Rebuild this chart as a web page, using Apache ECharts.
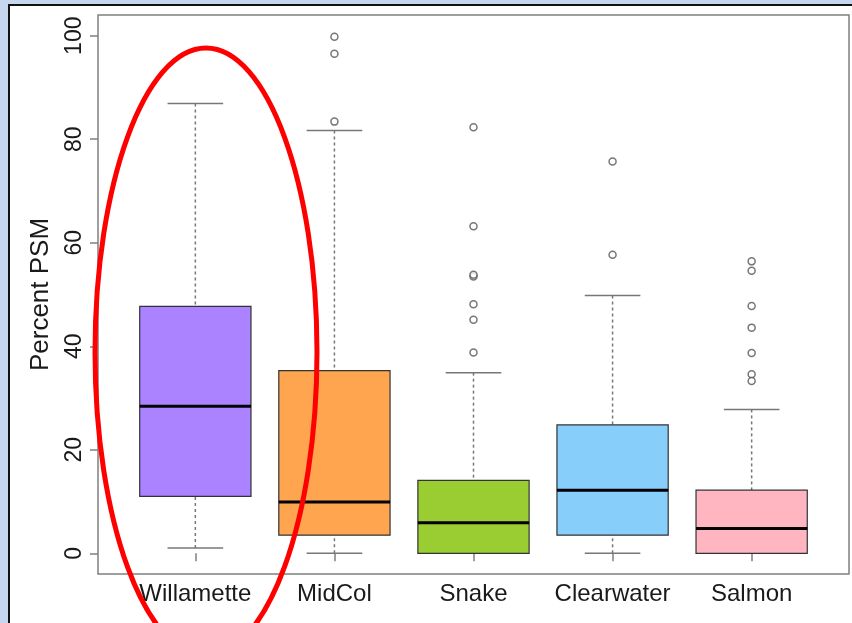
<!DOCTYPE html>
<html>
<head>
<meta charset="utf-8">
<script src="https://cdn.jsdelivr.net/npm/echarts@6/dist/echarts.min.js"></script>
<style>
  html, body { margin: 0; padding: 0; background: #c6d6ee; }
  #main { width: 852px; height: 623px; }
</style>
</head>
<body>
<div id="main"></div>
<script>
// categories and box stats
var categories = ["Willamette", "MidCol", "Snake", "Clearwater", "Salmon"];
var boxColors = ["#ab82ff", "#ffa54f", "#9acd32", "#87cefa", "#ffb6c1"];
// [lower whisker, Q1, median, Q3, upper whisker]
var boxStats = [
  [1.0, 11.0, 28.4, 47.7, 86.9],
  [0, 3.5, 9.9, 35.3, 81.7],
  [0, 0, 5.9, 14.1, 34.9],
  [0, 3.5, 12.2, 24.8, 49.8],
  [0, 0, 4.8, 12.2, 27.8]
];
var outliers = [
  [],
  [99.8, 96.5, 83.4],
  [82.3, 63.2, 53.5, 53.8, 48.1, 45.1, 38.8],
  [75.7, 57.7],
  [56.4, 54.6, 47.8, 43.6, 38.7, 34.6, 33.3]
];
var yTicks = [0, 20, 40, 60, 80, 100];
var xTicks = [1, 2, 3, 4, 5];

var boxData = boxStats.map(function (s, i) {
  return [i + 1].concat(s);
});
var outlierData = [];
outliers.forEach(function (arr, i) {
  arr.forEach(function (v) { outlierData.push([i + 1, v]); });
});

var myChart = echarts.init(document.getElementById("main"));

// draw one R-style box: dashed whiskers, caps, box and thick median
function renderBox(params, api) {
  var x = api.value(0);
  var lo = api.value(1), q1 = api.value(2), md = api.value(3), q3 = api.value(4), hi = api.value(5);
  var half = 0.4, cap = 0.2;
  var pLo = api.coord([x, lo]), pQ1 = api.coord([x, q1]), pMd = api.coord([x, md]);
  var pQ3 = api.coord([x, q3]), pHi = api.coord([x, hi]);
  var left = api.coord([x - half, 0])[0], right = api.coord([x + half, 0])[0];
  var cl = api.coord([x - cap, 0])[0], cr = api.coord([x + cap, 0])[0];
  var whisker = { stroke: "#777", lineWidth: 1.5, lineDash: [3, 3] };
  var capStyle = { stroke: "#777", lineWidth: 1.5 };
  var children = [];
  if (hi > q3) {
    children.push({ type: "line", shape: { x1: pHi[0], y1: pHi[1], x2: pQ3[0], y2: pQ3[1] }, style: whisker });
  }
  if (lo < q1) {
    children.push({ type: "line", shape: { x1: pLo[0], y1: pLo[1], x2: pQ1[0], y2: pQ1[1] }, style: whisker });
  }
  children.push({ type: "line", shape: { x1: cl, y1: pHi[1], x2: cr, y2: pHi[1] }, style: capStyle });
  children.push({ type: "line", shape: { x1: cl, y1: pLo[1], x2: cr, y2: pLo[1] }, style: capStyle });
  children.push({
    type: "rect",
    shape: { x: left, y: pQ3[1], width: right - left, height: pQ1[1] - pQ3[1] },
    style: { fill: boxColors[params.dataIndex], stroke: "#333", lineWidth: 1.2 }
  });
  children.push({ type: "line", shape: { x1: left, y1: pMd[1], x2: right, y2: pMd[1] }, style: { stroke: "#000", lineWidth: 3 } });
  return { type: "group", children: children };
}

myChart.setOption({
  backgroundColor: "#c6d6ee",
  animation: false,
  graphic: [
    {
      type: "rect",
      z: -10,
      shape: { x: 9, y: 5, width: 860, height: 640 },
      style: { fill: "#fff", stroke: "#111", lineWidth: 2 }
    },
    {
      // red hand-drawn highlight around Willamette
      type: "ellipse",
      z: 100,
      shape: { cx: 206, cy: 352, rx: 111, ry: 304 },
      style: { fill: "none", stroke: "#ff0000", lineWidth: 5 }
    }
  ],
  grid: {
    left: 98,
    right: 3,
    top: 15,
    bottom: 49,
    show: true,
    borderColor: "#808080",
    borderWidth: 1.5,
    backgroundColor: "transparent"
  },
  xAxis: {
    type: "value",
    min: 0.3,
    max: 5.7,
    axisLine: { show: false },
    splitLine: { show: false },
    axisTick: {
      show: true,
      customValues: xTicks,
      length: 8,
      lineStyle: { color: "#808080", width: 1.5 }
    },
    axisLabel: {
      customValues: xTicks,
      margin: 8,
      color: "#1a1a1a",
      fontSize: 24,
      fontFamily: "Liberation Sans, Arial, sans-serif",
      formatter: function (v) { return categories[Math.round(v) - 1]; }
    }
  },
  yAxis: {
    type: "value",
    min: -4,
    max: 104,
    name: "Percent PSM",
    nameLocation: "middle",
    nameRotate: 90,
    nameGap: 44,
    nameTextStyle: { fontSize: 26, color: "#1a1a1a", fontFamily: "Liberation Sans, Arial, sans-serif" },
    axisLine: { show: false },
    splitLine: { show: false },
    axisTick: {
      show: true,
      customValues: yTicks,
      length: 8,
      lineStyle: { color: "#808080", width: 1.5 }
    },
    axisLabel: {
      customValues: yTicks,
      rotate: 90,
      margin: 12,
      color: "#1a1a1a",
      fontSize: 23,
      fontFamily: "Liberation Sans, Arial, sans-serif"
    }
  },
  series: [
    {
      type: "custom",
      renderItem: renderBox,
      encode: { x: 0, y: [1, 2, 3, 4, 5] },
      data: boxData
    },
    {
      type: "scatter",
      symbol: "circle",
      symbolSize: 7,
      itemStyle: { color: "#fff", borderColor: "#555", borderWidth: 1.5 },
      data: outlierData
    }
  ]
});
</script>
</body>
</html>
